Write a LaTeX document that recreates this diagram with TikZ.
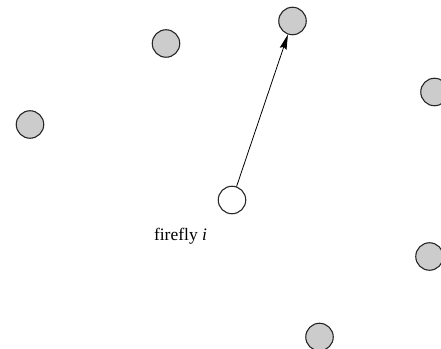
\documentclass[tikz,border=0pt]{standalone}
\usepackage{fontspec}
\setmainfont{Liberation Serif}
\usetikzlibrary{arrows.meta}
\begin{document}
\begin{tikzpicture}[x=1pt,y=1pt,
  fly/.style={circle,draw=black!85,line width=1.1pt,fill=gray!40,minimum size=27.5pt,inner sep=0pt},
  me/.style={fly,fill=white},
  lbl/.style={font=\fontsize{17.5}{20}\selectfont}]
\useasboundingbox (0,0) rectangle (441,348);
\node[fly] (a) at (166,304.5) {};
\node[fly] (b) at (292.5,327) {};
\node[fly] (c) at (434.5,256) {};
\node[fly] (d) at (30,223.5) {};
\node[me]  (i) at (232,148) {};
\node[fly] (e) at (429.5,91.5) {};
\node[fly] (f) at (319.5,11) {};
\node[lbl] (t) at (180.5,112) {firefly \textit{i}};
\draw[line width=0.8pt,-{Stealth[length=15pt,width=7pt,inset=2pt]}] (i) -- (b);
\end{tikzpicture}
\end{document}
